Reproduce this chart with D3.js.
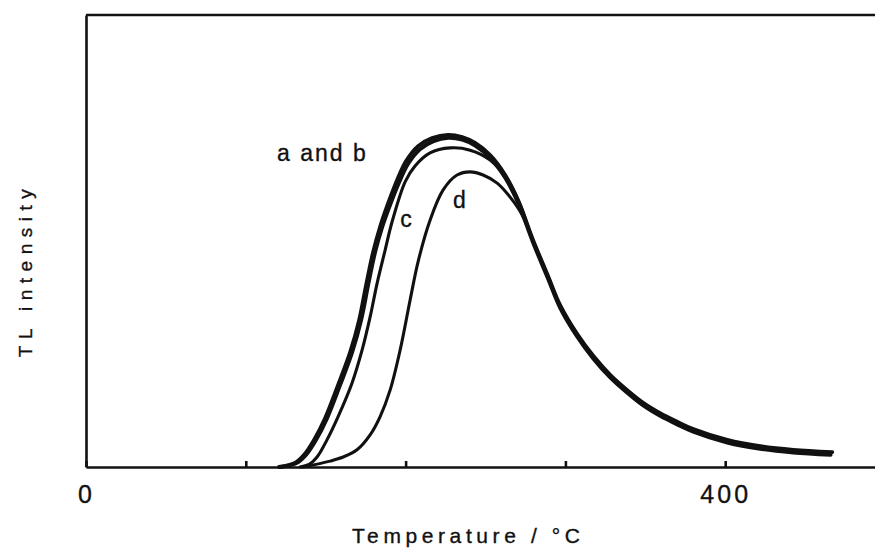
<!DOCTYPE html>
<html>
<head>
<meta charset="utf-8">
<script src="https://cdn.jsdelivr.net/npm/d3@7"></script>
<style>
	body { margin: 0; background: #fff; }
	svg { display: block; }
	text { font-family: "Liberation Sans", Arial, Helvetica, sans-serif; fill: #111; stroke: #111; stroke-width: 0.35; }
</style>
</head>
<body>
<div id="chart"></div>
<script>
// temperature (°C), TL intensity (arbitrary units, 0..100)
var curveA = [[120.8, 0], [130.8, 0.9], [136.5, 2.7], [142.7, 6.0], [149.6, 10.8], [157.7, 18.1], [165.3, 25.4], [170.9, 32.5], [175.3, 40.3], [179.7, 47.6], [184, 53.1], [188.4, 57.7], [194.7, 63.5], [200.3, 67.7], [207.8, 71.0], [216.6, 72.8], [226.6, 73.5], [235.4, 73.0], [243.5, 71.7], [252.9, 69.0], [262.3, 64.6], [270.4, 59.0], [279.8, 50.2], [289.2, 42.2], [296.7, 35.8], [307.4, 29.4], [317.4, 24.6], [328, 20.4], [338.7, 17.0], [348.7, 14.2], [359.3, 11.9], [370, 10.0], [380, 8.4], [401.3, 6.0], [421.9, 4.6], [442.6, 3.8], [467, 3.3]];
var curveB = [[122, 0], [132, 0.9], [137.8, 2.7], [144, 6.0], [150.9, 10.8], [159, 18.1], [166.6, 25.4], [172.2, 32.5], [176.6, 40.3], [181, 47.6], [185.3, 53.0], [189.7, 57.4], [196, 63.0], [201.6, 67.1], [209, 70.3], [217.5, 72.1], [226.8, 72.8], [235.4, 72.4], [243.5, 71.1], [252.9, 68.4], [262.3, 64.0], [270.4, 58.4], [279.8, 49.6], [289.2, 41.6], [296.7, 35.2], [307.4, 28.8], [317.4, 24.0], [328, 19.8], [338.7, 16.4], [348.7, 13.6], [359.3, 11.3], [370, 9.4], [380, 7.8], [401.3, 5.4], [421.9, 4.0], [442.6, 3.2], [466, 2.7]];
var curveC = [[134, 0], [140.2, 0.7], [144.6, 2.2], [150.8, 6.0], [157.7, 11.1], [166.5, 18.6], [172.8, 25.9], [177.8, 33.2], [182.2, 40.7], [187.2, 48.0], [191.5, 54.2], [199.7, 63.1], [205.9, 66.6], [215.3, 69.5], [227.9, 70.6], [240.4, 70.1], [252.9, 67.9], [264.2, 63.3], [271.7, 58.0], [279.8, 49.9], [289.2, 41.9], [296.7, 35.5], [307.4, 29.1], [317.4, 24.3], [328, 20.1], [338.7, 16.7], [348.7, 13.9], [359.3, 11.6], [370, 9.7], [380, 8.1], [401.3, 5.7], [421.9, 4.3], [442.6, 3.5], [465, 3.0]];
var curveD = [[136, 0], [152.7, 1.3], [160.9, 2.2], [169.6, 3.8], [177.8, 7.1], [184, 11.1], [190.3, 17.0], [196.6, 25.9], [202.8, 36.9], [207.8, 45.4], [215.3, 54.6], [223.5, 61.3], [232.2, 64.6], [240.4, 65.3], [248.5, 64.6], [257.3, 62.8], [265.4, 59.7], [272.9, 55.8], [279.8, 50.0], [289.2, 42.0], [296.7, 35.6], [307.4, 29.2], [317.4, 24.4], [328, 20.2], [338.7, 16.8], [348.7, 14.0], [359.3, 11.7], [370, 9.8], [380, 8.2], [401.3, 5.8], [421.9, 4.4], [442.6, 3.6], [464, 3.1]];

var xTicks = [0, 100, 200, 300, 400];
var xTickLabels = ["0", "", "", "", "400"];

// curve labels: [text, temperature, intensity]
var labels = [["a and b", 119.6, 67.7], ["c", 196.6, 53.1], ["d", 229.7, 57.3]];

function chart() {
	var w = 875;
	var h = 550;

	var x = d3.scaleLinear()
		.domain([0, 500])
		.range([86, 885]);

	var y = d3.scaleLinear()
		.domain([0, 100])
		.range([467, 15]);

	var svg = d3.select("#chart")
		.append("svg")
		.attr("width", w)
		.attr("height", h);

	var line = d3.line()
		.x(function (d) { return x(d[0]); })
		.y(function (d) { return y(d[1]); })
		.curve(d3.curveCatmullRom.alpha(0.5));

	//Curves
	var series = [
		{ data: curveA, width: 3.8 },
		{ data: curveB, width: 3.8 },
		{ data: curveC, width: 3.1 },
		{ data: curveD, width: 3.1 }
	];

	svg.selectAll("path.curve")
		.data(series)
		.enter()
		.append("path")
		.attr("class", "curve")
		.attr("d", function (d) { return line(d.data); })
		.attr("fill", "none")
		.attr("stroke", "#111")
		.attr("stroke-width", function (d) { return d.width; })
		.attr("stroke-linecap", "round")
		.attr("stroke-linejoin", "round");

	//Frame: top line
	svg.append("line")
		.attr("x1", x(0))
		.attr("x2", w)
		.attr("y1", y(100))
		.attr("y2", y(100))
		.attr("stroke", "#111")
		.attr("stroke-width", 2.6);

	//X axis, ticks pointing inward
	var xAxis = svg.append("g")
		.attr("transform", "translate(0," + y(0) + ")")
		.call(d3.axisBottom(x)
			.tickValues(xTicks)
			.tickFormat(function (d, i) { return xTickLabels[i]; })
			.tickSizeInner(-6)
			.tickSizeOuter(0)
			.tickPadding(18));

	xAxis.select(".domain")
		.attr("stroke", "#111")
		.attr("stroke-width", 2.6);
	xAxis.selectAll(".tick line")
		.attr("stroke", "#111")
		.attr("stroke-width", 2.6);
	xAxis.selectAll(".tick text")
		.attr("font-size", 25)
		.attr("letter-spacing", 3)
		.style("font-family", "'Liberation Sans', Arial, sans-serif")
		.attr("fill", "#111");

	//Y axis, no ticks
	var yAxis = svg.append("g")
		.attr("transform", "translate(" + x(0) + ",0)")
		.call(d3.axisLeft(y).tickValues([]).tickSizeOuter(0));

	yAxis.select(".domain")
		.attr("stroke", "#111")
		.attr("stroke-width", 2.6);

	//Curve labels
	svg.selectAll("text.lbl")
		.data(labels)
		.enter()
		.append("text")
		.attr("class", "lbl")
		.attr("x", function (d) { return x(d[1]); })
		.attr("y", function (d) { return y(d[2]); })
		.attr("font-size", 23)
		.attr("letter-spacing", 2)
		.text(function (d) { return d[0]; });

	//Axis titles
	svg.append("text")
		.attr("x", 352)
		.attr("y", 543)
		.attr("font-size", 21)
		.attr("letter-spacing", 4.6)
		.text("Temperature / °C");

	svg.append("text")
		.attr("transform", "translate(32,270) rotate(-90)")
		.attr("text-anchor", "middle")
		.attr("font-size", 19)
		.attr("letter-spacing", 6.5)
		.text("TL intensity");
}

chart();
</script>
</body>
</html>
